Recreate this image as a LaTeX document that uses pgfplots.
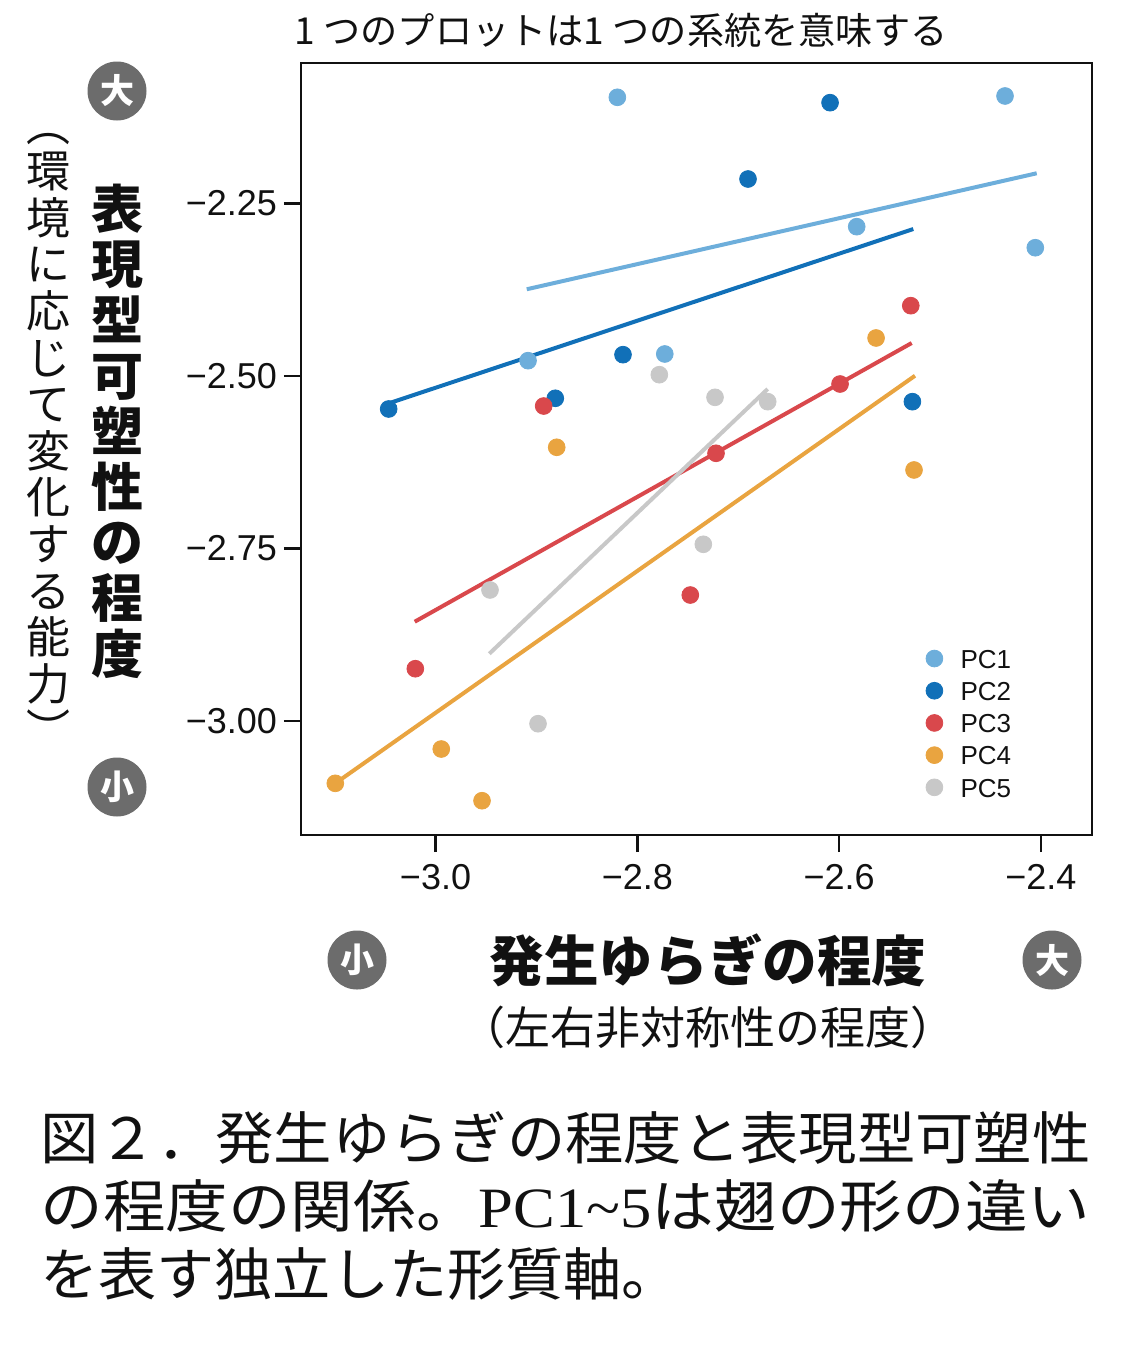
\documentclass[border=0pt]{standalone}
\usepackage{fontspec}
\setmainfont{Liberation Sans}
\newfontfamily\jp{Noto Sans CJK JP}
\newfontfamily\serif{Liberation Serif}
\usepackage{graphicx}
\usepackage{pgfplots}
\usepackage{pgfplotstable}
\pgfplotsset{compat=1.18}
\definecolor{cA}{HTML}{6DAEDB}
\definecolor{cB}{HTML}{1170B8}
\definecolor{cC}{HTML}{D9484C}
\definecolor{cD}{HTML}{E9A440}
\definecolor{cE}{HTML}{C8C8C8}
\definecolor{circ}{HTML}{6C6C6C}
\definecolor{ink}{HTML}{111111}

\pgfplotstableread{
x y
-2.8198 -2.0961
-2.9083 -2.4778
-2.7728 -2.4681
-2.4356 -2.0942
-2.5826 -2.2836
-2.4056 -2.3141
}\pcone
\pgfplotstableread{
x y
-3.0464 -2.5478
-2.8813 -2.5323
-2.8142 -2.4691
-2.6090 -2.1039
-2.6903 -2.2145
-2.5274 -2.5372
}\pctwo
\pgfplotstableread{
x y
-2.8928 -2.5435
-3.0200 -2.9242
-2.7475 -2.8174
-2.7220 -2.6120
-2.5991 -2.5116
-2.5290 -2.3981
}\pcthree
\pgfplotstableread{
x y
-2.8799 -2.6033
-3.0993 -3.0903
-2.9943 -3.0406
-2.9539 -3.1155
-2.5634 -2.4449
-2.5258 -2.6362
}\pcfour
\pgfplotstableread{
x y
-2.7782 -2.4981
-2.9460 -2.8101
-2.8984 -3.0039
-2.7230 -2.5309
-2.6708 -2.5372
-2.7346 -2.7439
}\pcfive

\begin{document}
\begin{tikzpicture}
\begin{scope}[x=0.5pt,y=-0.5pt]
\path[use as bounding box] (0,0) rectangle (1127,1350);
\end{scope}

\begin{axis}[
  at={(150.5pt,-417.5pt)}, anchor=south west,
  width=395.5pt, height=386pt, scale only axis,
  xmin=-3.1333, xmax=-2.3494, ymin=-3.1652, ymax=-2.0464,
  axis line style={line width=1.4pt, ink},
  xtick={-3,-2.8,-2.6,-2.4},
  xticklabels={−3.0,−2.8,−2.6,−2.4},
  ytick={-3,-2.75,-2.5,-2.25},
  yticklabels={−3.00,−2.75,−2.50,−2.25},
  xtick pos=left, ytick pos=left,
  tick align=outside, major tick length=8.5pt,
  tick style={line width=1.2pt, ink},
  tick label style={font=\fontsize{18}{18}\selectfont, text=ink},
  xticklabel style={yshift=-2.5pt},
  legend image code/.code={\draw[#1] plot coordinates {(0pt,0.2pt)};},
  legend cell align=left,
  legend style={at={(axis cs:-2.5139,-2.8867)}, anchor=north west,
    draw=none, fill=none, inner sep=0pt, outer sep=0pt, row sep=0pt,
    font=\fontsize{13}{13}\selectfont,
    nodes={text height=9.4pt, text depth=0pt, inner sep=3.35pt, text=ink},
    /tikz/every odd column/.append style={column sep=5.5pt}},
]
\addplot[only marks, mark=*, mark size=4.2pt, color=cA] table {\pcone};
\addlegendentry{PC1}
\addplot[forget plot, color=cA, line width=2pt] coordinates {(-2.9096,-2.3743) (-2.4042,-2.2062)};
\addplot[only marks, mark=*, mark size=4.2pt, color=cB] table {\pctwo};
\addlegendentry{PC2}
\addplot[forget plot, color=cB, line width=2pt] coordinates {(-3.0464,-2.5396) (-2.5265,-2.2870)};
\addplot[only marks, mark=*, mark size=4.2pt, color=cC] table {\pcthree};
\addlegendentry{PC3}
\addplot[forget plot, color=cC, line width=2pt] coordinates {(-3.0206,-2.8561) (-2.5281,-2.4522)};
\addplot[only marks, mark=*, mark size=4.2pt, color=cD] table {\pcfour};
\addlegendentry{PC4}
\addplot[forget plot, color=cD, line width=2pt] coordinates {(-3.0993,-3.0903) (-2.5248,-2.4996)};
\addplot[only marks, mark=*, mark size=4.2pt, color=cE] table {\pcfive};
\addlegendentry{PC5}
\addplot[forget plot, color=cE, line width=2pt] coordinates {(-2.9467,-2.9025) (-2.6708,-2.5188)};
\end{axis}

\begin{scope}[x=0.5pt,y=-0.5pt]
% title
\node[text=ink, inner sep=0pt, font=\jp\fontsize{18.6}{18.6}\selectfont] at (621,30) {1\hspace{0.22em}つのプロットは1\hspace{0.22em}つの系統を意味する};
% circles
\tikzset{badge/.style={circle, fill=circ, minimum size=29.5pt, inner sep=0pt, text=white, font=\jp\bfseries\fontsize{17}{17}\selectfont}}
\node[badge] at (117,91) {大};
\node[badge] at (117,787) {小};
\node[badge] at (357,960) {小};
\node[badge] at (1052,960) {大};
% y labels
\node[text=ink, inner sep=0pt, align=center, font=\jp\bfseries\fontsize{26}{27.8}\selectfont] at (117,431) {表\\現\\型\\可\\塑\\性\\の\\程\\度};
\node[text=ink, inner sep=0pt, align=center, font=\jp\fontsize{22}{23.3}\selectfont] at (48,440) {︵\\環\\境\\に\\応\\じ\\て\\変\\化\\す\\る\\能\\力\\︶};
% x labels
\node[text=ink, inner sep=0pt, font=\jp\bfseries\fontsize{27.3}{27.3}\selectfont] at (708,960) {発生ゆらぎの程度};
\node[text=ink, inner sep=0pt, font=\jp\fontsize{22.5}{22.5}\selectfont] at (708,1027) {（左右非対称性の程度）};
% caption
\node[text=ink, inner sep=0pt, anchor=west, font=\jp\fontsize{28.5}{28.5}\selectfont] at (40,1138) {\resizebox{525pt}{\height}{図２．発生ゆらぎの程度と表現型可塑性}};
\node[text=ink, inner sep=0pt, anchor=west, font=\jp\fontsize{28.5}{28.5}\selectfont] at (40,1206) {\resizebox{525pt}{\height}{の程度の関係。{\serif PC1\textasciitilde 5}は翅の形の違い}};
\node[text=ink, inner sep=0pt, anchor=west, font=\jp\fontsize{28.5}{28.5}\selectfont] at (40,1274) {\scalebox{1.02}[1]{を表す独立した形質軸。}};
\end{scope}
\end{tikzpicture}
\end{document}
